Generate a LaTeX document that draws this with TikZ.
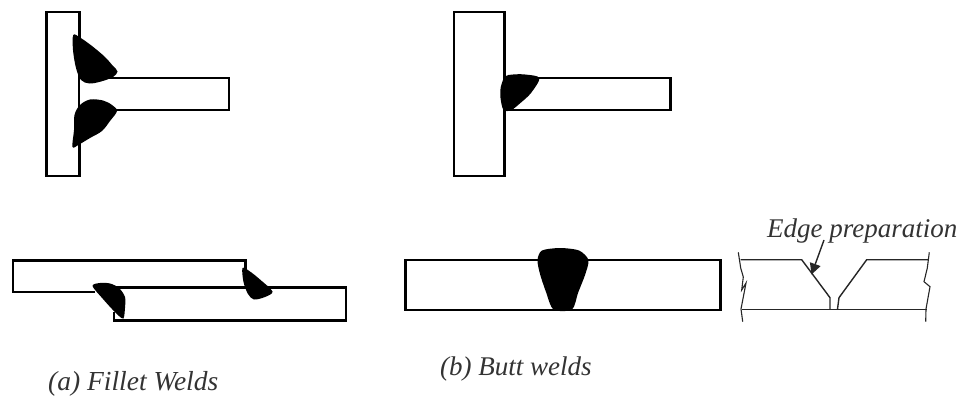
\documentclass[tikz,border=0pt]{standalone}
\usepackage{fontspec}
\setmainfont{Liberation Serif}
\usetikzlibrary{arrows.meta}
\tikzset{
  plate/.style={draw=black,line width=2.2pt,line join=miter,fill=white},
  weld/.style={fill=black,draw=none},
  thin line/.style={draw=black!85,line width=1.4pt,line join=miter},
  caption/.style={font=\itshape\fontsize{27.5}{30}\selectfont,text=black!80,inner sep=0pt,anchor=base west}
}
\begin{document}
\begin{tikzpicture}[x=1pt,y=-1pt]
\useasboundingbox[fill=white] (0,0) rectangle (961,396);
% fillet T joint
\draw[plate] (46.5,12) rectangle (79.5,176);
\draw[plate] (79.5,78) -- (229,78) -- (229,110) -- (79.5,110);
\fill[weld] plot[smooth cycle,tension=0.55] coordinates {(73.3,35) (80,37.5) (92,46) (105,57) (113,66) (117.5,71.5) (113,77) (101,81.5) (89.5,83.5) (81,80) (76,68) (73,50)};
\fill[weld] plot[smooth cycle,tension=0.55] coordinates {(72.5,147) (79,144.5) (90,138) (102,131) (110,121) (117,111) (112,105) (103,100.5) (90,99.5) (80,105) (74.5,115) (74,130)};
% butt T joint
\draw[plate] (454,12) rectangle (504.5,176);
\draw[plate] (504.5,78) -- (670.5,78) -- (670.5,110) -- (504.5,110);
\fill[weld] plot[smooth cycle,tension=0.5] coordinates {(505,76.5) (513,74.5) (525,74.5) (539.5,78) (531,93) (521,102.5) (511,110.3) (503.5,110) (500.5,98) (500.8,87)};
% lap joint
\draw[plate] (95,292.3) -- (13,292.3) -- (13,260.5) -- (245.5,260.5) -- (245.5,275);
\draw[plate] (114,312) -- (114,320.5) -- (346,320.5) -- (346,287.5) -- (100,287.5);
\fill[weld] plot[smooth cycle,tension=0.5] coordinates {(92.5,286) (100,283) (110,283.5) (119,288) (125,297) (125,308) (123.5,318.5) (119,316) (112,309) (103,299)};
\fill[weld] plot[smooth cycle,tension=0.5] coordinates {(242.5,268) (250,271.5) (260,279.5) (272.5,291.5) (265,297) (254,299.5) (248,294) (243.5,282)};
% butt weld
\draw[plate] (405.5,260.3) rectangle (720.5,310);
\fill[weld] plot[smooth cycle,tension=0.45] coordinates {(537.5,260) (542,250.5) (560,248) (579,250.5) (588.5,260) (585,275) (578,293) (572,309.5) (553.5,309.5) (546,292) (540,274)};
% edge preparation
\draw[thin line] (740.5,259.7) -- (801.7,259.7) -- (830,297.7) -- (830,309);
\draw[thin line] (928.5,259.7) -- (866.7,259.7) -- (839,297.7) -- (837.5,309);
\draw[thin line] (742,309.3) -- (926.5,309.3);
\draw[thin line,line width=1.1pt] (738.3,252.3) -- (740.7,268) -- (743.3,277) -- (741.7,290) -- (746,283) -- (741,309) -- (742.7,321.7);
\draw[thin line,line width=1.1pt] (929.3,252.3) -- (927.3,268) -- (924,281.7) -- (930,286.7) -- (926,309) -- (925.7,321.7);
% labels
\node[caption,font=\itshape\fontsize{27}{30}\selectfont] (edgelabel) at (767,237) {Edge preparation};
\node[caption] (filletlabel) at (48,390) {(a) Fillet Welds};
\node[caption,font=\itshape\fontsize{27}{30}\selectfont] (buttlabel) at (440,375) {(b) Butt welds};
\coordinate (edgetip) at (811.5,274.5);
\coordinate (edgestart) at (824,240);
\draw[thin line,-{Triangle[length=11pt,width=11pt]}] (edgestart) -- (edgetip);
\end{tikzpicture}
\end{document}
